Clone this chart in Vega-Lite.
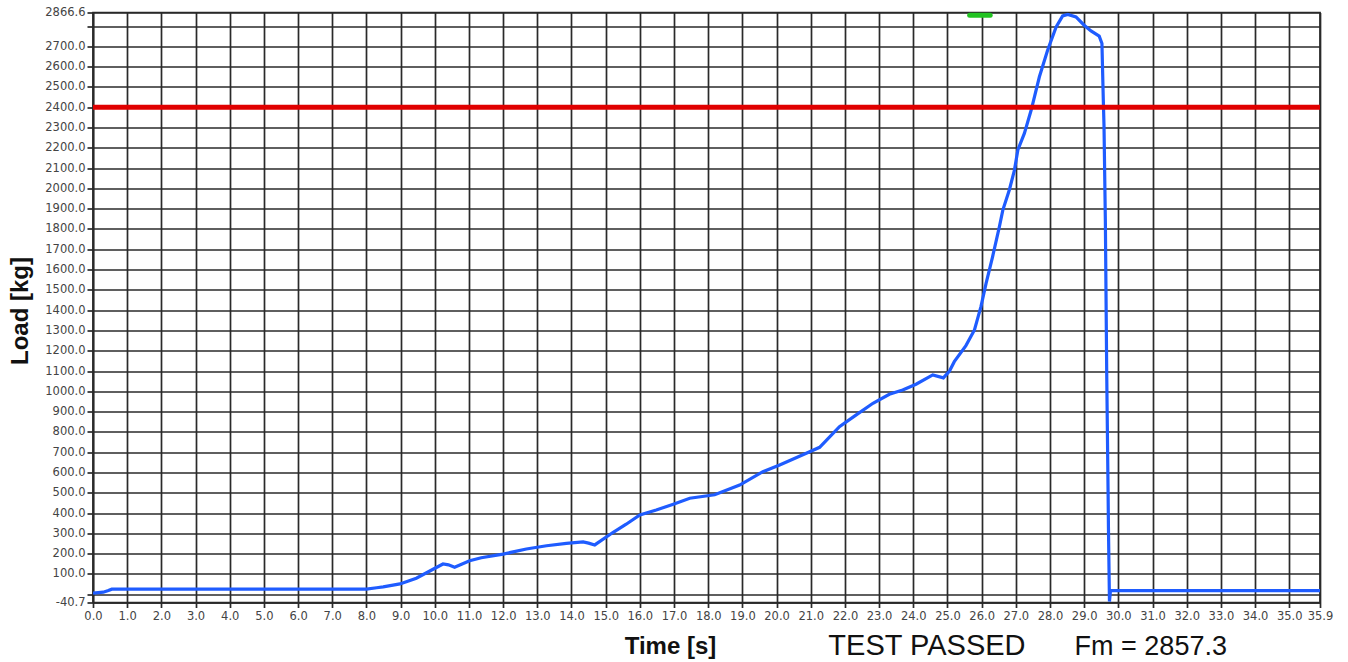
{
  "$schema": "https://vega.github.io/schema/vega-lite/v6.json",
  "autosize": "none",
  "width": 1227,
  "height": 590,
  "padding": {"left": 93, "top": 12.5, "right": 28, "bottom": 59.5},
  "background": "white",
  "config": {
    "view": {"stroke": "#2a2a2a", "strokeWidth": 1.7},
    "axis": {
      "labelFont": "DejaVu Sans",
      "labelFontSize": 11.5,
      "labelColor": "#444",
      "titleFont": "Liberation Sans",
      "titleFontSize": 24,
      "titleFontWeight": "bold",
      "titleColor": "#111",
      "gridColor": "#2a2a2a",
      "gridWidth": 1.7,
      "gridOpacity": 1,
      "tickColor": "#2a2a2a",
      "tickWidth": 1.7,
      "domainColor": "#2a2a2a",
      "domainWidth": 1.7
    }
  },
  "datasets": {
    "curve": [
      {"t": 0, "load": 5}, {"t": 0.3, "load": 10}, {"t": 0.45, "load": 18}, {"t": 0.55, "load": 25},
      {"t": 8.0, "load": 25}, {"t": 8.3, "load": 32}, {"t": 8.49, "load": 36}, {"t": 8.98, "load": 51},
      {"t": 9.46, "load": 79}, {"t": 9.95, "load": 123}, {"t": 10.24, "load": 149}, {"t": 10.4, "load": 145},
      {"t": 10.58, "load": 133}, {"t": 11.02, "load": 165}, {"t": 11.36, "load": 180}, {"t": 12.0, "load": 198},
      {"t": 12.68, "load": 223}, {"t": 13.27, "load": 239}, {"t": 13.85, "load": 251}, {"t": 14.34, "load": 258},
      {"t": 14.5, "load": 252}, {"t": 14.68, "load": 243}, {"t": 15.21, "load": 304}, {"t": 15.6, "load": 345},
      {"t": 16.0, "load": 391}, {"t": 16.48, "load": 415}, {"t": 17.0, "load": 445}, {"t": 17.46, "load": 473},
      {"t": 18.19, "load": 490}, {"t": 18.92, "load": 538}, {"t": 19.6, "load": 604}, {"t": 20.09, "load": 637},
      {"t": 20.87, "load": 695}, {"t": 21.26, "load": 724}, {"t": 21.84, "load": 826}, {"t": 22.3, "load": 880},
      {"t": 22.82, "load": 941}, {"t": 23.3, "load": 985}, {"t": 23.69, "load": 1006}, {"t": 24.08, "load": 1035},
      {"t": 24.57, "load": 1081}, {"t": 24.88, "load": 1066}, {"t": 25.06, "load": 1100}, {"t": 25.2, "load": 1146},
      {"t": 25.54, "load": 1225}, {"t": 25.79, "load": 1302}, {"t": 25.98, "load": 1417}, {"t": 26.13, "load": 1532},
      {"t": 26.32, "load": 1663}, {"t": 26.52, "load": 1811}, {"t": 26.62, "load": 1893}, {"t": 26.81, "load": 1992},
      {"t": 26.96, "load": 2090}, {"t": 27.06, "load": 2189}, {"t": 27.25, "load": 2271}, {"t": 27.45, "load": 2386},
      {"t": 27.69, "load": 2550}, {"t": 27.93, "load": 2681}, {"t": 28.18, "load": 2796}, {"t": 28.37, "load": 2850},
      {"t": 28.52, "load": 2857.3}, {"t": 28.76, "load": 2845}, {"t": 29.0, "load": 2804}, {"t": 29.2, "load": 2776},
      {"t": 29.44, "load": 2750}, {"t": 29.52, "load": 2714}, {"t": 29.56, "load": 2435}, {"t": 29.58, "load": 2312},
      {"t": 29.62, "load": 1840}, {"t": 29.66, "load": 1088}, {"t": 29.7, "load": 500}, {"t": 29.71, "load": 330},
      {"t": 29.74, "load": -36}, {"t": 29.77, "load": 18}, {"t": 35.9, "load": 18}
    ]
  },
  "layer": [
    {
      "data": {"name": "curve"},
      "mark": {"type": "line", "color": "#1f5cff", "strokeWidth": 3.2, "clip": true},
      "encoding": {
        "x": {
          "field": "t", "type": "quantitative",
          "scale": {"domain": [0, 35.9], "nice": false, "zero": false},
          "axis": {
            "title": "Time [s]",
            "values": [0,1,2,3,4,5,6,7,8,9,10,11,12,13,14,15,16,17,18,19,20,21,22,23,24,25,26,27,28,29,30,31,32,33,34,35,35.9],
            "tickCount": 200,
            "format": ".1f",
            "grid": true,
            "tickSize": 5,
            "labelPadding": 3,
            "labelOverlap": false,
            "labelBound": false,
            "labelFlush": false,
            "titleX": 577,
            "titleY": 51,
            "titleBaseline": "alphabetic",
            "titleAnchor": null
          }
        },
        "y": {
          "field": "load", "type": "quantitative",
          "scale": {"domain": [-40.7, 2866.6], "nice": false, "zero": false},
          "axis": {
            "title": "Load [kg]",
            "values": [-40.7,0,100,200,300,400,500,600,700,800,900,1000,1100,1200,1300,1400,1500,1600,1700,1800,1900,2000,2100,2200,2300,2400,2500,2600,2700,2800,2866.6],
            "tickCount": 200,
            "labelExpr": "datum.value == 0 || datum.value == 2800 ? '' : replace(format(datum.value, '.1f'), '\u2212', '-')",
            "grid": true,
            "tickSize": 6,
            "labelPadding": 2,
            "labelOverlap": false,
            "labelBound": false,
            "labelFlush": false,
            "titleAngle": -90,
            "titleX": -66,
            "titleY": 298,
            "titleAlign": "center",
            "titleBaseline": "alphabetic",
            "titleAnchor": null
          }
        }
      }
    },
    {
      "data": {"values": [{}]},
      "mark": {"type": "rule", "color": "#e00000", "strokeWidth": 5},
      "encoding": {"y": {"datum": 2400, "type": "quantitative"}}
    },
    {
      "data": {"values": [{}]},
      "mark": {"type": "rule", "color": "#22c322", "strokeWidth": 5, "strokeCap": "round"},
      "encoding": {
        "x": {"datum": 25.65, "type": "quantitative"},
        "x2": {"datum": 26.25},
        "y": {"datum": 2853, "type": "quantitative"}
      }
    },
    {
      "data": {"values": [{}]},
      "mark": {"type": "text", "text": "TEST PASSED", "font": "Liberation Sans", "fontSize": 29, "color": "#111", "align": "center", "baseline": "bottom"},
      "encoding": {
        "x": {"datum": 24.4, "type": "quantitative"},
        "y": {"datum": -327, "type": "quantitative"}
      }
    },
    {
      "data": {"values": [{}]},
      "mark": {"type": "text", "text": "Fm = 2857.3", "font": "Liberation Sans", "fontSize": 27, "color": "#111", "align": "left", "baseline": "bottom"},
      "encoding": {
        "x": {"datum": 28.72, "type": "quantitative"},
        "y": {"datum": -327, "type": "quantitative"}
      }
    }
  ]
}
